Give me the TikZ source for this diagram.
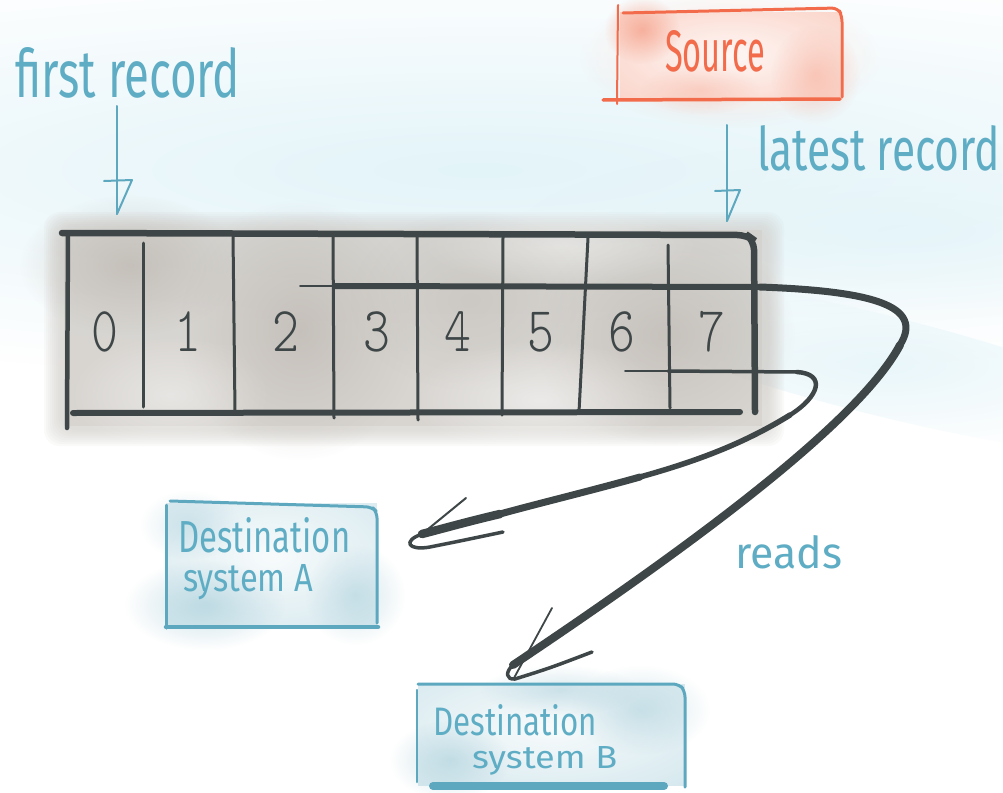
\documentclass[tikz,border=0pt]{standalone}
\usepackage{graphicx}
\usepackage{fontspec}
\setmainfont{Fira Sans}
\newfontfamily\digitfont{lmmonolt10-regular.otf}
\usetikzlibrary{fadings}

\definecolor{ink}{HTML}{3E4647}
\definecolor{sktealline}{HTML}{5DA8BF}
\definecolor{sktealtext}{HTML}{5FADC4}
\definecolor{skred}{HTML}{F26B4A}
\definecolor{tablegray}{HTML}{D2CEC9}
\definecolor{tabledark}{HTML}{BAB3AC}
\definecolor{bluefill}{HTML}{CFE5EC}
\definecolor{bluedark}{HTML}{A2CAD7}
\definecolor{pinkfill}{HTML}{FBD6CB}
\definecolor{pinkdark}{HTML}{F6A48E}
\definecolor{cyanbg}{HTML}{E3F4F9}

\tikzfading[name=fuzz, inner color=transparent!0, outer color=transparent!100]

% hand-lettered label: width, cap height, text
\newcommand\hand[3]{\resizebox{#1pt}{#2pt}{#3}}
% one slot number of the log
\newcommand\slotnum[1]{\scalebox{0.8}[1]{\fontsize{64pt}{64pt}\digitfont #1}}

\begin{document}
\begin{tikzpicture}[x=1pt,y=-1pt,
    lbl/.style={inner sep=0pt, text=sktealtext, anchor=base west},
    redlbl/.style={inner sep=0pt, text=skred, anchor=base west},
    slot/.style={inner sep=0pt, text=ink},
    frame/.style={draw=ink, line cap=round, line width=#1},
    frame/.default=3,
    tealline/.style={draw=sktealline, line cap=round, line join=round, line width=#1},
    tealline/.default=2,
    redline/.style={draw=skred, line cap=round, line join=round, line width=#1},
    redline/.default=3,
    reader/.style={draw=ink, line cap=round, line join=round, line width=#1},
    soft/.style={path fading=fuzz}
  ]
\useasboundingbox (0,0) rectangle (1003,792);
\fill[white] (0,0) rectangle (1003,792);

% pale washes behind the drawing
\fill[cyanbg, soft] (480,170) ellipse (1150 and 210);
\fill[cyanbg, soft, opacity=.8] (900,230) ellipse (380 and 90);
\begin{scope}[shift={(880,365)}, rotate=-14]
  \fill[cyanbg, soft, opacity=.8] (0,0) ellipse (330 and 50);
\end{scope}

% ---------- source ----------
\fill[pinkfill] (620,12) rectangle (840,99);
\fill[pinkfill, soft, opacity=.8] (730,58) ellipse (150 and 70);
\fill[white, soft, opacity=.8] (730,55) ellipse (150 and 62);
\fill[pinkdark, soft, opacity=.8] (642,30) ellipse (38 and 34);
\fill[pinkdark, soft, opacity=.45] (815,75) ellipse (45 and 50);
\fill[pinkdark, soft, opacity=.35] (700,90) ellipse (60 and 25);
\draw[redline=2] (618,5) -- (617,104);
\draw[redline=3, rounded corners=6] (623,13) -- (838,8) -- (842,16) -- (842,97);
\draw[redline=3.5] (603,100) -- (840,99);
\node[redlbl] (source) at (665,72) {\hand{100}{41}{Source}};

% ---------- log ----------
\foreach \d in {0,...,8}
  \fill[tablegray, opacity=.1, rounded corners=16]
    ({44+2*\d},{212+2*\d}) rectangle ({784-2*\d},{446-2*\d});
\fill[tablegray, opacity=.5] (64,230) rectangle (762,426);
\fill[tabledark, soft, opacity=.6] (130,265) ellipse (110 and 70);
\fill[tabledark, soft, opacity=.6] (300,330) ellipse (120 and 130);
\fill[tabledark, soft, opacity=.55] (665,335) ellipse (130 and 110);
\fill[tabledark, soft, opacity=.35] (470,300) ellipse (120 and 90);
\fill[white, soft, opacity=.5] (540,400) ellipse (130 and 60);
\fill[white, soft, opacity=.4] (170,395) ellipse (100 and 60);
\fill[white, soft, opacity=.35] (560,245) ellipse (140 and 40);

% slot numbers
\node[slot] (n0) at (105,332) {\slotnum{0}};
\node[slot] (n1) at (188,332) {\slotnum{1}};
\node[slot] (n2) at (286,332) {\slotnum{2}};
\node[slot] (n3) at (377,332) {\slotnum{3}};
\node[slot] (n4) at (458,332) {\slotnum{4}};
\node[slot] (n5) at (541,332) {\slotnum{5}};
\node[slot] (n6) at (622,332) {\slotnum{6}};
\node[slot] (n7) at (712,332) {\slotnum{7}};

% outer frame
\draw[frame=6.5, rounded corners=10] (62,233) -- (747,235) -- (754,240) -- (755,412);
\draw[frame=4.5] (68,233) -- (67,428);
\draw[frame=6] (73,413) -- (740,412);
% slot dividers
\draw[frame=3] (143,243) -- (143,407);
\draw[frame=3] (233,235) -- (235,412);
\draw[frame=3] (333,235) -- (334,418);
\draw[frame=3] (417,235) -- (418,420);
\draw[frame=3] (503,237) -- (502,415);
\draw[frame=3] (588,238) -- (579,412);
\draw[frame=3] (668,245) -- (670,408);

% ---------- destinations ----------
\fill[bluefill] (167,503) rectangle (377,627);
\fill[white, soft, opacity=.85] (272,556) ellipse (200 and 115);
\fill[bluedark, soft, opacity=.55] (205,605) ellipse (80 and 45);
\fill[bluedark, soft, opacity=.45] (355,595) ellipse (50 and 50);
\fill[bluedark, soft, opacity=.35] (190,525) ellipse (50 and 35);
\draw[tealline=3, rounded corners=6] (170,501) -- (372,507) -- (377,512) -- (377,623);
\draw[tealline=3] (166,505) -- (166,628);
\draw[tealline=4.5] (166,627) -- (378,627);
\node[lbl] (destA1) at (178,552) {\hand{172}{35}{Destination}};
\node[lbl] (destA2) at (183,591) {\hand{130}{27}{system A}};

\fill[bluefill] (418,684) rectangle (685,786);
\fill[white, soft, opacity=.85] (548,728) ellipse (240 and 95);
\fill[bluedark, soft, opacity=.5] (450,760) ellipse (60 and 40);
\fill[bluedark, soft, opacity=.45] (640,710) ellipse (70 and 45);
\fill[bluedark, soft, opacity=.4] (560,690) ellipse (80 and 25);
\draw[tealline=3, rounded corners=6] (418,684) -- (679,684) -- (685,691) -- (685,787);
\draw[tealline=2.5] (417,690) -- (417,782);
\draw[tealline=8] (433,786) -- (664,786);
\node[lbl] (destB1) at (433,735) {\hand{164}{31}{Destination}};
\node[lbl] (destB2) at (472,768) {\hand{145}{22}{system B}};

% ---------- pointers to the ends of the log ----------
\node[lbl] (firstlbl) at (15,97) {\hand{225}{50}{first record}};
\node[lbl] (latestlbl) at (757,170) {\hand{243}{45}{latest record}};
\coordinate (firstTail) at (117,106);
\coordinate (firstTip) at (117,214);
\coordinate (latestTail) at (727,125);
\coordinate (latestTip) at (727,221);
\draw[tealline] (firstTail) -- (firstTip);
\draw[tealline] (104,181) -- (132,180) -- (firstTip);
\draw[tealline] (latestTail) -- (latestTip);
\draw[tealline] (715,191) -- (740,190) -- (latestTip);

% ---------- readers ----------
% reader A: starts at slot 6
\coordinate (aStart) at (625,371);
\coordinate (aMid) at (668,371);
\coordinate (aOut) at (797,372);
\coordinate (aTurn) at (790,415);
\coordinate (aEnd) at (422,534);
\draw[reader=1.8] (aStart) -- (aMid);
\draw[reader=3.5] (aMid) -- (aOut);
\draw[reader=4.5] (aOut) .. controls (826,374) and (820,396) .. (aTurn);
\draw[reader=5.5] (aTurn) .. controls (740,446) and (690,463) .. (640,477);
\draw[reader=7] (640,477) .. controls (590,491) and (540,503) .. (500,514);
\draw[reader=8.5] (500,514) .. controls (470,521) and (445,528) .. (aEnd);
\draw[reader=2] (aEnd) -- (466,498);
\draw[reader=3.5] (aEnd) .. controls (402,541) and (408,551) .. (430,547) .. controls (460,541) .. (503,532);

% reader B: starts at slot 3
\coordinate (bStart) at (300,286);
\coordinate (bMid) at (335,286);
\coordinate (bOut) at (760,287);
\coordinate (bTurn) at (900,345);
\coordinate (bEnd) at (513,665);
\draw[reader=1.8] (bStart) -- (bMid);
\draw[reader=6] (bMid) -- (bOut);
\draw[reader=7] (bOut) .. controls (870,291) and (925,305) .. (bTurn);
\draw[reader=8] (bTurn) .. controls (860,420) and (700,540) .. (bEnd);
\draw[reader=1.8] (552,608) -- (514,678);
\draw[reader=3.5] (bEnd) .. controls (505,672) and (506,680) .. (515,679) .. controls (550,668) .. (592,652);

\node[lbl] (reads) at (735,568) {\hand{107}{33}{reads}};
\end{tikzpicture}
\end{document}
